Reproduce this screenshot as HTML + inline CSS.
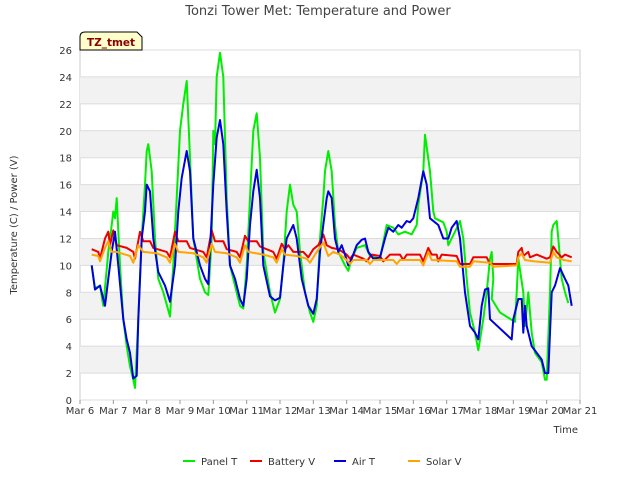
<!DOCTYPE html>
<html><head><meta charset="utf-8"><style>
body{margin:0;background:#fff;font-family:"DejaVu Sans",sans-serif}
</style></head><body>
<svg id="c" width="640" height="480" xmlns="http://www.w3.org/2000/svg" font-family="DejaVu Sans, sans-serif">
<rect width="640" height="480" fill="#fff"/>
<text x="318" y="15" text-anchor="middle" font-size="13" fill="#444">Tonzi Tower Met: Temperature and Power</text>
<g id="grid"></g>
<g id="series"></g>
<g id="axes"></g>
<text transform="translate(17,225) rotate(-90)" text-anchor="middle" font-size="10" fill="#333">Temperature (C) / Power (V)</text>
<text x="578" y="433" text-anchor="end" font-size="10" fill="#333">Time</text>
<g>
<path d="M80,50 L80,37 Q80,32 85,32 L137,32 L142,37 L142,50 Z" fill="#ffffcc" stroke="#000" stroke-width="1"/>
<text x="111" y="46" text-anchor="middle" font-size="10.5" font-weight="bold" fill="#8b0000">TZ_tmet</text>
</g>
<g id="legend"></g>
</svg>
<script>
const xTicks=["Mar 6","Mar 7","Mar 8","Mar 9","Mar 10","Mar 11","Mar 12","Mar 13","Mar 14","Mar 15","Mar 16","Mar 17","Mar 18","Mar 19","Mar 20","Mar 21"];
const yTicks=[0,2,4,6,8,10,12,14,16,18,20,22,24,26];
const seriesNames=["Panel T","Battery V","Air T","Solar V"];
const seriesColors=["#00ee00","#ee0000","#0000dd","#ffa500"];
const panelT=[[0.35,10],[0.45,8.3],[0.6,8.5],[0.7,7],[0.85,11],[0.95,13],[1.0,14],[1.05,13.5],[1.1,15],[1.2,10],[1.3,6],[1.4,4],[1.5,2.5],[1.6,1.5],[1.65,0.9],[1.75,6],[1.85,12],[1.95,16],[2.0,18.5],[2.05,19],[2.15,17],[2.25,12],[2.35,9],[2.5,8],[2.7,6.2],[2.8,10],[2.9,15],[3.0,20],[3.1,22],[3.2,23.7],[3.3,18],[3.4,12],[3.6,9],[3.75,8],[3.85,7.8],[3.95,12],[4.0,20],[4.05,19],[4.1,24],[4.2,25.8],[4.3,24],[4.4,15],[4.5,10],[4.65,8.5],[4.8,7],[4.9,6.8],[5.0,10],[5.1,15],[5.2,20],[5.3,21.3],[5.4,18],[5.5,11],[5.7,8],[5.85,6.5],[6.0,7.5],[6.1,10],[6.2,14],[6.3,16],[6.4,14.5],[6.5,14],[6.6,11],[6.75,8],[6.9,6.5],[7.0,5.8],[7.1,7],[7.2,12],[7.3,15],[7.35,17],[7.45,18.5],[7.55,17],[7.65,13],[7.75,11],[7.85,10.5],[7.95,10],[8.05,9.6],[8.15,10.5],[8.3,11.3],[8.55,11.5],[8.7,10.7],[9.0,10.5],[9.2,13],[9.4,12.8],[9.55,12.3],[9.75,12.5],[9.95,12.3],[10.1,13],[10.15,14.5],[10.3,17],[10.35,19.7],[10.5,17],[10.6,14],[10.65,13.5],[10.9,13.2],[11.0,12.5],[11.05,11.5],[11.25,12.5],[11.4,13.3],[11.5,12],[11.6,9],[11.7,6.5],[11.85,5],[11.95,3.7],[12.1,6],[12.2,8],[12.3,10.5],[12.35,11],[12.4,9],[12.35,7.5],[12.6,6.5],[13.05,5.8],[13.1,8],[13.15,10.5],[13.3,8],[13.35,5.5],[13.45,8],[13.55,5],[13.65,3.5],[13.85,2.8],[13.95,1.5],[14.0,1.5],[14.1,8],[14.15,12.5],[14.2,13],[14.3,13.3],[14.35,12],[14.45,9],[14.55,8],[14.65,7.2]];
const airT=[[0.35,10],[0.45,8.2],[0.6,8.5],[0.75,7],[0.85,9],[0.95,11],[1.05,12.5],[1.15,10],[1.3,6],[1.4,4.5],[1.5,3.5],[1.6,1.6],[1.7,1.8],[1.75,6],[1.85,12],[1.95,14],[2.0,16],[2.1,15.5],[2.2,12],[2.35,9.5],[2.55,8.5],[2.7,7.3],[2.85,10],[2.95,14],[3.05,16.5],[3.2,18.5],[3.3,17],[3.4,12],[3.6,10],[3.75,9],[3.85,8.6],[4.0,16],[4.1,19.5],[4.2,20.8],[4.3,19],[4.4,14],[4.5,10],[4.65,9],[4.8,7.5],[4.9,7],[5.0,9],[5.1,13],[5.2,15.5],[5.3,17.1],[5.4,15],[5.5,10],[5.7,7.7],[5.85,7.4],[6.0,7.6],[6.1,10],[6.2,12],[6.3,12.5],[6.4,13],[6.5,12],[6.65,9],[6.85,7],[7.0,6.4],[7.1,7.5],[7.2,11],[7.3,13],[7.4,15],[7.45,15.5],[7.55,15],[7.65,12],[7.75,11],[7.85,11.5],[7.95,10.8],[8.05,10],[8.15,10.5],[8.3,11.5],[8.45,11.9],[8.55,12],[8.65,11],[8.8,10.5],[9.0,10.6],[9.15,12],[9.25,12.8],[9.4,12.5],[9.55,13],[9.65,12.8],[9.8,13.3],[9.9,13.2],[10.0,13.5],[10.15,15],[10.3,17],[10.4,16],[10.5,13.5],[10.75,13],[10.9,12],[11.05,12],[11.15,12.8],[11.3,13.3],[11.4,12],[11.55,8],[11.7,5.5],[11.85,5],[11.95,4.5],[12.05,7],[12.15,8.2],[12.25,8.3],[12.3,6],[12.95,4.5],[13.0,6],[13.15,7.5],[13.25,7.5],[13.3,5],[13.35,7],[13.4,5.5],[13.55,4],[13.7,3.5],[13.85,3],[13.95,2],[14.05,2],[14.15,8],[14.25,8.5],[14.4,9.8],[14.55,9],[14.65,8.5],[14.75,7]];
const batteryV=[[0.35,11.2],[0.55,11],[0.6,10.5],[0.75,12],[0.85,12.5],[0.9,11.5],[1.0,12.6],[1.1,11.5],[1.4,11.3],[1.6,11],[1.65,10.5],[1.8,12.5],[1.9,11.8],[2.1,11.8],[2.2,11.3],[2.6,11],[2.7,10.6],[2.85,12.5],[2.95,11.8],[3.2,11.8],[3.3,11.3],[3.7,11],[3.8,10.6],[3.95,12.6],[4.05,11.8],[4.3,11.8],[4.4,11.2],[4.7,11],[4.8,10.6],[4.95,12.2],[5.05,11.8],[5.3,11.8],[5.4,11.4],[5.8,11],[5.9,10.5],[6.05,11.6],[6.15,11.2],[6.25,11.5],[6.4,11],[6.7,11],[6.85,10.6],[7.0,11.2],[7.15,11.5],[7.3,12.3],[7.4,11.5],[7.55,11.3],[7.75,11.2],[8.0,10.8],[8.1,10.5],[8.2,10.8],[8.5,10.5],[8.6,10.3],[8.75,10.8],[9.0,10.7],[9.1,10.3],[9.3,10.8],[9.6,10.8],[9.7,10.4],[9.8,10.8],[10.2,10.8],[10.3,10.3],[10.45,11.3],[10.55,10.8],[10.7,10.8],[10.75,10.3],[10.85,10.8],[11.3,10.7],[11.4,10.1],[11.7,10.1],[11.8,10.6],[12.2,10.6],[12.3,10.1],[13.1,10.1],[13.15,11],[13.25,11.3],[13.3,10.7],[13.45,11],[13.5,10.6],[13.7,10.8],[14.0,10.5],[14.1,10.6],[14.2,11.4],[14.3,11],[14.45,10.6],[14.55,10.8],[14.75,10.6]];
const solarV=[[0.35,10.8],[0.55,10.7],[0.6,10.3],[0.75,11.3],[0.85,11.8],[0.95,11],[1.1,11],[1.5,10.7],[1.6,10.2],[1.75,11.5],[1.9,11],[2.3,10.9],[2.6,10.6],[2.7,10.2],[2.85,11.6],[2.95,11],[3.4,10.9],[3.7,10.6],[3.8,10.2],[3.95,11.6],[4.05,11],[4.4,10.9],[4.7,10.6],[4.8,10.2],[4.95,11.5],[5.05,11],[5.5,10.8],[5.8,10.6],[5.9,10.2],[6.05,11.2],[6.15,10.8],[6.5,10.7],[6.8,10.5],[6.9,10.2],[7.05,10.8],[7.3,11.7],[7.45,10.7],[7.6,11],[7.8,10.8],[8.0,10.4],[8.1,10.1],[8.2,10.4],[8.6,10.4],[8.7,10.1],[8.8,10.4],[9.4,10.4],[9.5,10.1],[9.6,10.4],[10.2,10.4],[10.3,10.0],[10.45,11],[10.55,10.4],[11.3,10.3],[11.4,9.9],[11.7,9.9],[11.8,10.3],[12.3,10.2],[12.4,9.9],[13.1,10],[13.15,10.6],[13.25,10.9],[13.35,10.4],[13.6,10.3],[14.1,10.2],[14.2,11],[14.3,10.6],[14.5,10.4],[14.75,10.3]];
const NS="http://www.w3.org/2000/svg";
const L=80,R=580,T=50,B=400;
const xs=t=>L+t*(R-L)/15;
const ys=v=>B-v*(B-T)/26;
function mk(tag,attrs,parent){const e=document.createElementNS(NS,tag);for(const k in attrs)e.setAttribute(k,attrs[k]);parent.appendChild(e);return e;}
const grid=document.getElementById('grid'),axes=document.getElementById('axes'),ser=document.getElementById('series'),leg=document.getElementById('legend');
const bg=mk('rect',{x:L,y:T,width:R-L,height:B-T,fill:'#fff',stroke:'#ccc'},grid);


for(let i=0;i<yTicks.length-1;i++){if(i%2===1){const b=mk('rect',{x:L,y:ys(yTicks[i+1]),width:R-L,height:ys(yTicks[i])-ys(yTicks[i+1]),fill:'#f2f2f2'},grid);

}}
yTicks.forEach(v=>{const g=mk('line',{x1:L,x2:R,y1:ys(v),y2:ys(v),stroke:'#dcdcdc'},grid);


const t=mk('text',{x:L-8,y:ys(v)+4,'text-anchor':'end','font-size':10,fill:'#333'},axes);t.textContent=v;

});
xTicks.forEach((s,i)=>{const t=mk('text',{x:xs(i),y:414,'text-anchor':'middle','font-size':10,fill:'#333'},axes);t.textContent=s;


const tk=mk('line',{x1:xs(i),x2:xs(i),y1:B,y2:B+4,stroke:'#999'},axes);

});
const data=[panelT,batteryV,airT,solarV];
[0,1,2,3].forEach(i=>{const p=mk('polyline',{points:data[i].map(d=>xs(d[0]).toFixed(1)+','+ys(d[1]).toFixed(1)).join(' '),fill:'none',stroke:seriesColors[i],'stroke-width':2,'stroke-linejoin':'round'},ser);

});
const lx=[183,250,334,408];
seriesNames.forEach((n,i)=>{const g=mk('g',{},leg);


mk('line',{x1:lx[i],x2:lx[i]+12,y1:461,y2:461,stroke:seriesColors[i],'stroke-width':2},g);
const t=mk('text',{x:lx[i]+18,y:465,'font-size':10,fill:'#333'},g);t.textContent=n;});
</script>
</body></html>
